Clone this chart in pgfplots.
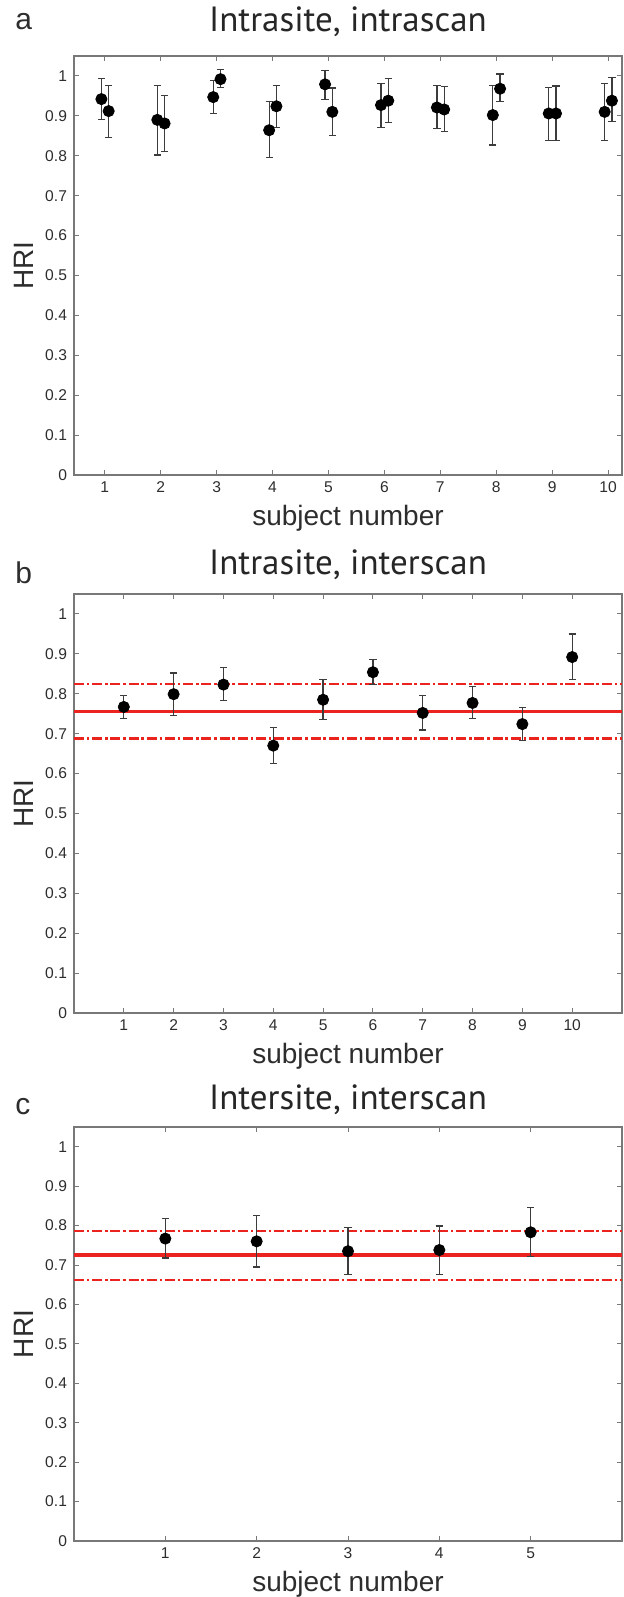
\documentclass[border=0pt]{standalone}
\usepackage{fontspec}
\setmainfont{Liberation Sans}
\newfontfamily\titlefont{PT Sans}
\usepackage{pgfplots}
\usepackage{pgfplotstable}
\pgfplotsset{compat=1.18}

\definecolor{axgray}{RGB}{120,120,120}
\definecolor{tickgray}{RGB}{45,45,45}
\definecolor{hrired}{RGB}{235,35,30}
\definecolor{ebar}{RGB}{60,60,60}

% panel a, first and second measurement (x, HRI, +err, -err)
\pgfplotstableread{
x y ep em
0.94 0.942 0.051 0.051
1.94 0.890 0.086 0.088
2.94 0.947 0.042 0.041
3.94 0.864 0.071 0.069
4.94 0.979 0.035 0.037
5.94 0.927 0.055 0.056
6.94 0.921 0.055 0.053
7.94 0.902 0.075 0.075
8.94 0.906 0.065 0.067
9.94 0.910 0.071 0.071
}\dataAone
\pgfplotstableread{
x y ep em
1.07 0.912 0.065 0.066
2.07 0.881 0.071 0.070
3.07 0.992 0.024 0.021
4.07 0.924 0.053 0.054
5.07 0.910 0.060 0.059
6.07 0.938 0.055 0.055
7.07 0.916 0.058 0.056
8.07 0.968 0.037 0.033
9.07 0.906 0.069 0.067
10.07 0.938 0.058 0.053
}\dataAtwo
\pgfplotstableread{
x y ep em
1 0.767 0.028 0.029
2 0.799 0.053 0.053
3 0.823 0.042 0.040
4 0.670 0.046 0.044
5 0.785 0.051 0.049
6 0.854 0.032 0.031
7 0.752 0.044 0.043
8 0.777 0.041 0.038
9 0.724 0.042 0.041
10 0.892 0.058 0.056
}\dataB
\pgfplotstableread{
x y ep em
1 0.767 0.051 0.049
2 0.760 0.066 0.065
3 0.735 0.061 0.060
4 0.738 0.061 0.062
5 0.783 0.063 0.062
}\dataC

\pgfplotsset{
  every axis title shift=0pt,
  hri/.style={
    scale only axis, width=274pt,
    ymin=0, ymax=1.05,
    ytick={0,0.1,0.2,0.3,0.4,0.5,0.6,0.7,0.8,0.9,1},
    xtick={1,2,3,4,5,6,7,8,9,10},
    axis line style={axgray, line width=0.6pt},
    tick style={axgray, line width=0.5pt},
    tick align=inside, tick pos=both,
    major tick length=2.5pt,
    ticklabel style={font=\fontsize{7.8}{9}\selectfont, text=tickgray},
    /pgf/number format/assume math mode=true,
    xlabel={subject number}, ylabel={HRI},
    label style={font=\fontsize{14}{16}\selectfont, text=tickgray},
    xlabel style={at={(axis description cs:0.5,0)}, anchor=base, yshift=-25pt},
    ylabel style={at={(axis description cs:-0.091,0.5)}, anchor=center},
    title style={at={(axis description cs:0.5,1)}, anchor=base, inner sep=0pt, font=\titlefont\fontsize{17.5}{20}\selectfont, text=black!85},
    clip=true,
  },
  pts/.style={
    only marks, mark=*, mark size=2.8pt, mark options={black, fill=black},
    error bars/.cd, y dir=both, y explicit,
    error bar style={ebar, line width=0.6pt},
    error mark options={rotate=90, mark size=1.8pt, ebar, line width=0.6pt},
  },
  mean/.style={hrired, line width=1.7pt},
  band/.style={hrired, line width=1.2pt, dash pattern=on 5pt off 1.4pt on 1.3pt off 1.4pt},
}

\begin{document}
\begin{tikzpicture}
% ---------- panel a ----------
\begin{axis}[hri, at={(37pt,-28pt)}, anchor=north west, height=209.5pt,
  xmin=0.45, xmax=10.25,
  title={Intrasite, intrascan}, title style={yshift=12.5pt}]
\addplot[pts] table[x=x, y=y, y error plus=ep, y error minus=em] {\dataAone};
\addplot[pts] table[x=x, y=y, y error plus=ep, y error minus=em] {\dataAtwo};
\end{axis}
% ---------- panel b ----------
\begin{axis}[hri, at={(37pt,-297pt)}, anchor=north west, height=209.5pt,
  xmin=0, xmax=11,
  title={Intrasite, interscan}, title style={yshift=10pt}]
\addplot[mean] coordinates {(0,0.756) (11,0.756)};
\addplot[band] coordinates {(0,0.825) (11,0.825)};
\addplot[band] coordinates {(0,0.688) (11,0.688)};
\addplot[pts] table[x=x, y=y, y error plus=ep, y error minus=em] {\dataB};
\end{axis}
% ---------- panel c ----------
\begin{axis}[hri, at={(37pt,-563.5pt)}, anchor=north west, height=207pt,
  xmin=0, xmax=6, xtick={1,2,3,4,5},
  title={Intersite, interscan}, title style={yshift=9pt}]
\addplot[mean] coordinates {(0,0.725) (6,0.725)};
\addplot[band] coordinates {(0,0.787) (6,0.787)};
\addplot[band] coordinates {(0,0.662) (6,0.662)};
\addplot[pts] table[x=x, y=y, y error plus=ep, y error minus=em] {\dataC};
\end{axis}
% panel letters
\node[anchor=base west, font=\fontsize{15}{16}\selectfont, text=tickgray, inner sep=0pt] at (7.5pt,-14.5pt) {a};
\node[anchor=base west, font=\fontsize{15}{16}\selectfont, text=tickgray, inner sep=0pt] at (7.5pt,-291.75pt) {b};
\node[anchor=base west, font=\fontsize{15}{16}\selectfont, text=tickgray, inner sep=0pt] at (7.5pt,-557pt) {c};
\pgfresetboundingbox
\path (0,0) rectangle (311.5pt,-798.5pt);
\end{tikzpicture}
\end{document}
